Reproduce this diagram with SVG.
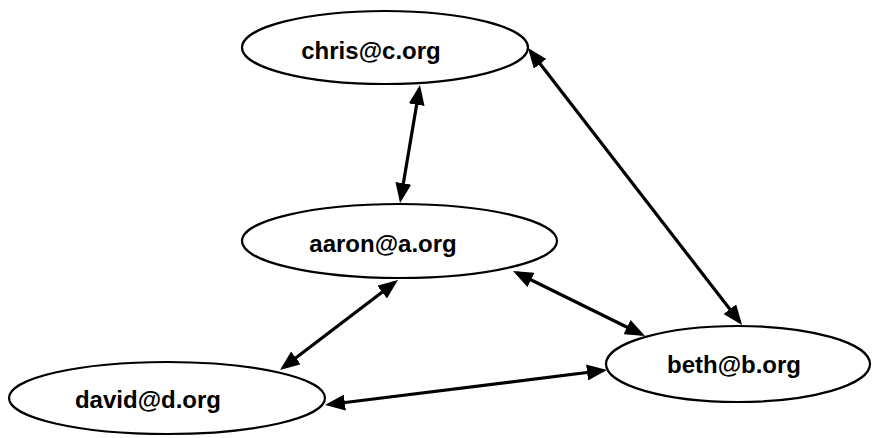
<svg xmlns="http://www.w3.org/2000/svg" width="874" height="438" viewBox="0 0 874 438">
  <style>
    .node ellipse { fill: #ffffff; stroke: #000000; stroke-width: 2.2; }
    .node text { font-family: "Liberation Sans", Arial, sans-serif; font-weight: bold; font-size: 24px; fill: #000000; text-anchor: middle; }
    .edge { stroke: #000000; stroke-width: 3.2; fill: none; marker-start: url(#arrow); marker-end: url(#arrow); }
  </style>
  <defs>
    <marker id="arrow" viewBox="0 0 20 16" refX="16" refY="8" markerWidth="20" markerHeight="16" markerUnits="userSpaceOnUse" orient="auto-start-reverse">
      <path d="M0,0 L20,8 L0,16 z" fill="#000000"/>
    </marker>
  </defs>
  <rect width="874" height="438" fill="#ffffff"/>
  <g id="nodes">
    <g id="chris" class="node">
      <ellipse cx="385" cy="47.5" rx="143" ry="36.5"/>
      <text x="371" y="59">chris@c.org</text>
    </g>
    <g id="aaron" class="node">
      <ellipse cx="399.5" cy="241" rx="157.5" ry="37"/>
      <text x="383" y="252">aaron@a.org</text>
    </g>
    <g id="david" class="node">
      <ellipse cx="167" cy="398" rx="158" ry="36"/>
      <text x="148" y="408">david@d.org</text>
    </g>
    <g id="beth" class="node">
      <ellipse cx="738" cy="364" rx="132" ry="38"/>
      <text x="734" y="373">beth@b.org</text>
    </g>
  </g>
  <g id="connectors">
    <line class="edge" x1="419.3" y1="88.9" x2="400.7" y2="199.1"/>
    <line class="edge" x1="530.4" y1="51.2" x2="739.6" y2="321.8"/>
    <line class="edge" x1="516.6" y1="272.8" x2="641.4" y2="334.2"/>
    <line class="edge" x1="394.8" y1="282.4" x2="283.2" y2="367.6"/>
    <line class="edge" x1="329" y1="404.5" x2="603" y2="370.5"/>
  </g>
</svg>
